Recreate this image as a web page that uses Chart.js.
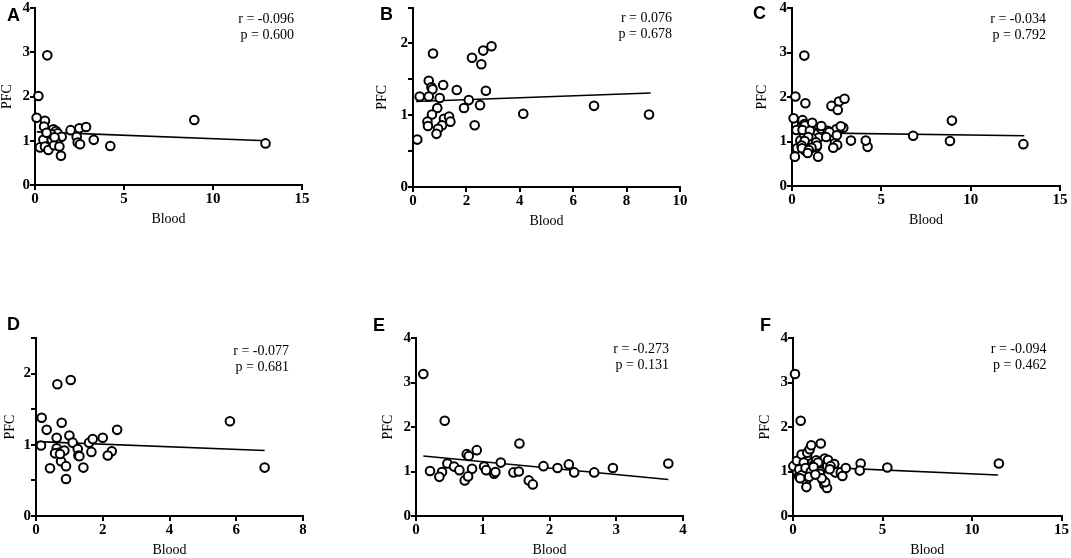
<!DOCTYPE html>
<html>
<head>
<meta charset="utf-8">
<script src="https://cdn.jsdelivr.net/npm/chart.js@4.4.1/dist/chart.umd.min.js"></script>
<style>
    html, body { margin: 0; padding: 0; background: #fff; overflow: hidden; width: 1071px; height: 558px; }
    .panel { position: absolute; }
    .tag { position: absolute; font: bold 18px "Liberation Sans", Arial, sans-serif; line-height: 1; color: #000; }
</style>
</head>
<body>
<script>
// values (x = Blood, y = PFC)
const bloodA = [0.69, 0.19, 0.09, 0.56, 0.51, 1.03, 1.18, 2.0, 2.49, 2.87, 1.27, 1.5, 0.8, 0.47, 0.94, 2.34,
    3.3, 2.4, 2.53, 1.18, 0.28, 0.56, 0.75, 1.07, 1.37, 1.46, 4.23, 8.95, 12.95, 0.9, 0.65, 1.1];
const pfcA = [2.93, 2.01, 1.52, 1.45, 1.32, 1.26, 1.22, 1.24, 1.28, 1.31, 1.17, 1.09, 1.12, 1.02, 1.02, 1.09,
    1.02, 0.96, 0.92, 0.98, 0.85, 0.87, 0.79, 0.9, 0.87, 0.66, 0.88, 1.47, 0.94, 1.15, 1.18, 1.08];

const bloodB = [0.75, 2.21, 2.63, 2.94, 2.56, 0.59, 0.69, 0.73, 1.13, 1.64, 2.73, 0.25, 0.59, 1.0, 2.09, 1.91,
    0.91, 2.51, 0.71, 1.16, 1.35, 1.4, 0.54, 0.56, 1.09, 0.94, 0.88, 2.31, 0.16, 4.13, 6.78, 8.84];
const pfcB = [1.86, 1.80, 1.90, 1.96, 1.71, 1.48, 1.39, 1.36, 1.42, 1.35, 1.34, 1.26, 1.26, 1.24, 1.21, 1.10,
    1.10, 1.14, 1.01, 0.95, 0.98, 0.91, 0.91, 0.85, 0.86, 0.81, 0.74, 0.86, 0.66, 1.02, 1.13, 1.01];

const bloodD = [0.64, 1.04, 0.17, 0.77, 0.32, 0.62, 1.0, 0.15, 1.1, 0.62, 0.7, 0.57, 0.85, 1.25, 1.27, 1.3,
    1.59, 1.7, 1.66, 2.0, 2.27, 2.15, 2.43, 0.75, 0.42, 0.9, 1.42, 0.9, 5.81, 6.85, 0.72];
const pfcD = [1.85, 1.91, 1.38, 1.31, 1.21, 1.10, 1.13, 0.99, 1.03, 0.95, 0.89, 0.88, 0.92, 0.94, 0.85, 0.84,
    1.03, 1.08, 0.90, 1.10, 0.91, 0.85, 1.21, 0.77, 0.67, 0.70, 0.68, 0.52, 1.33, 0.68, 0.87];

const bloodE = [0.11, 0.43, 1.55, 0.91, 0.76, 0.79, 0.47, 1.27, 0.21, 0.39, 0.35, 0.57, 0.65, 0.84, 0.73, 0.78,
    1.02, 1.05, 1.17, 1.19, 1.46, 1.54, 1.69, 1.75, 1.91, 2.12, 2.29, 2.37, 2.67, 2.95, 3.78];
const pfcE = [3.19, 2.14, 1.63, 1.48, 1.39, 1.35, 1.18, 1.20, 1.01, 0.99, 0.88, 1.11, 1.03, 1.06, 0.80, 0.89,
    1.11, 1.03, 0.95, 0.99, 0.98, 1.00, 0.80, 0.71, 1.12, 1.08, 1.16, 0.98, 0.98, 1.08, 1.18];

// extra points that appear only in panel F (F = E + these)
const bloodFx = [0.02, 0.22, 0.48, 0.8, 0.93, 1.02, 1.77, 1.96, 2.3, 3.73, 5.27, 11.5, 0.75, 1.9, 1.8, 2.76,
    1.3, 1.4, 0.6, 0.35, 0.5, 0.7, 1.0, 1.15, 1.5, 1.6, 2.1, 0.9, 1.25, 0.4, 2.05];
const pfcFx = [1.12, 1.24, 1.38, 1.42, 1.50, 1.59, 1.29, 1.26, 1.17, 1.02, 1.09, 1.18, 0.65, 0.63, 0.76, 0.90,
    1.25, 1.20, 1.20, 1.05, 0.92, 1.08, 1.00, 1.10, 0.95, 0.85, 1.12, 0.88, 0.93, 0.85, 1.05];

// C pools A and B
const bloodC = bloodA.concat(bloodB);
const pfcC = pfcA.concat(pfcB);
const bloodF = bloodE.concat(bloodFx);
const pfcF = pfcE.concat(pfcFx);

// regression line end points
const fitA = { x: [0.1, 13], y: [1.2, 1.0] };
const fitB = { x: [0.12, 8.9], y: [1.19, 1.31] };
const fitC = { x: [0.09, 13], y: [1.2, 1.13] };
const fitD = { x: [0.04, 6.85], y: [1.045, 0.92] };
const fitE = { x: [0.11, 3.78], y: [1.35, 0.82] };
const fitF = { x: [0.1, 11.46], y: [1.12, 0.92] };

const statsA = ['r = -0.096', 'p = 0.600'];
const statsB = ['r = 0.076', 'p = 0.678'];
const statsC = ['r = -0.034', 'p = 0.792'];
const statsD = ['r = -0.077', 'p = 0.681'];
const statsE = ['r = -0.273', 'p = 0.131'];
const statsF = ['r = -0.094', 'p = 0.462'];

// layout of each panel on the page (canvas box + plot area)
const panels = [
    { tag: 'A', x: bloodA, y: pfcA, fit: fitA, stats: statsA, xMax: 15, xStep: 5, yMax: 4, yStep: 1,
      L: 0, T: 0, W: 355, plot: { l: 35, t: 8, r: 302, b: 185 }, sdx: 8, sdy: 11, tagPos: [7, 6] },
    { tag: 'B', x: bloodB, y: pfcB, fit: fitB, stats: statsB, xMax: 10, xStep: 2, yMax: 2.5, yStep: 0.5,
      L: 375, T: 0, W: 325, plot: { l: 413, t: 7, r: 680, b: 187 }, sdx: 8, sdy: 11, tagPos: [380, 5] },
    { tag: 'C', x: bloodC, y: pfcC, fit: fitC, stats: statsC, xMax: 15, xStep: 5, yMax: 4, yStep: 1,
      L: 755, T: 0, W: 316, plot: { l: 792, t: 8, r: 1060, b: 186 }, sdx: 14, sdy: 11, tagPos: [753, 4] },
    { tag: 'D', x: bloodD, y: pfcD, fit: fitD, stats: statsD, xMax: 8, xStep: 2, yMax: 2.5, yStep: 0.5,
      L: 3, T: 328, W: 352, plot: { l: 36, t: 338, r: 303, b: 516 }, sdx: 14, sdy: 13, tagPos: [7, 315] },
    { tag: 'E', x: bloodE, y: pfcE, fit: fitE, stats: statsE, xMax: 4, xStep: 1, yMax: 4, yStep: 1,
      L: 381, T: 328, W: 320, plot: { l: 416, t: 338, r: 683, b: 516 }, sdx: 14, sdy: 11, tagPos: [373, 316] },
    { tag: 'F', x: bloodF, y: pfcF, fit: fitF, stats: statsF, xMax: 15, xStep: 5, yMax: 4, yStep: 1,
      L: 758, T: 328, W: 313, plot: { l: 793, t: 338, r: 1062, b: 516 }, sdx: 15, sdy: 11, tagPos: [760, 316] }
];

const serif = '"Liberation Serif", "Times New Roman", serif';
const X_AXIS_H = 46;

// r / p text in the top right corner of each plot
const statsText = {
    id: 'statsText',
    afterDatasetsDraw(chart, args, opts) {
        const { ctx, chartArea } = chart;
        ctx.save();
        ctx.font = '14px ' + serif;
        ctx.fillStyle = '#000';
        ctx.textAlign = 'right';
        ctx.textBaseline = 'middle';
        opts.lines.forEach((t, i) => {
            ctx.fillText(t, chartArea.right - opts.dx, chartArea.top + opts.dy + i * 16);
        });
        ctx.restore();
    }
};

function axisStyle() {
    return {
        grid: { display: true, drawOnChartArea: false, drawTicks: true, tickLength: 5, color: '#000', lineWidth: 2 },
        border: { display: true, color: '#000', width: 2 }
    };
}

panels.forEach(p => {
    const H = p.plot.b + X_AXIS_H - p.T;
    const div = document.createElement('div');
    div.className = 'panel';
    div.style.left = p.L + 'px';
    div.style.top = p.T + 'px';
    div.style.width = p.W + 'px';
    div.style.height = H + 'px';
    const canvas = document.createElement('canvas');
    canvas.width = p.W;
    canvas.height = H;
    div.appendChild(canvas);
    document.body.appendChild(div);

    const tag = document.createElement('div');
    tag.className = 'tag';
    tag.textContent = p.tag;
    tag.style.left = p.tagPos[0] + 'px';
    tag.style.top = p.tagPos[1] + 'px';
    document.body.appendChild(tag);

    const yW = p.plot.l - p.L;
    const points = p.x.map((v, i) => ({ x: v, y: p.y[i] }));
    const line = p.fit.x.map((v, i) => ({ x: v, y: p.fit.y[i] }));

    new Chart(canvas.getContext('2d'), {
        type: 'scatter',
        data: {
            datasets: [{
                data: points,
                order: 0,
                clip: false,
                pointRadius: 4.3,
                pointBorderWidth: 2,
                pointBorderColor: '#000',
                pointBackgroundColor: '#fff'
            }, {
                data: line,
                order: 1,
                clip: false,
                showLine: true,
                pointRadius: 0,
                borderColor: '#000',
                borderWidth: 1.6
            }]
        },
        options: {
            responsive: false,
            animation: false,
            events: [],
            layout: {
                padding: { top: p.plot.t - p.T, right: p.L + p.W - p.plot.r, left: 0, bottom: 0 }
            },
            plugins: {
                legend: { display: false },
                tooltip: { enabled: false },
                statsText: { lines: p.stats, dx: p.sdx, dy: p.sdy }
            },
            scales: {
                x: Object.assign(axisStyle(), {
                    type: 'linear',
                    min: 0,
                    max: p.xMax,
                    afterFit: s => { s.height = X_AXIS_H; },
                    ticks: {
                        stepSize: p.xStep,
                        padding: 2,
                        color: '#000',
                        maxRotation: 0,
                        font: { family: serif, size: 15, weight: 'bold', lineHeight: 1 },
                        callback: v => String(v)
                    },
                    title: {
                        display: true,
                        text: 'Blood',
                        color: '#000',
                        padding: { top: 2, bottom: 3 },
                        font: { family: serif, size: 14, lineHeight: 1.2 }
                    }
                }),
                y: Object.assign(axisStyle(), {
                    type: 'linear',
                    min: 0,
                    max: p.yMax,
                    afterFit: s => { s.width = yW; },
                    ticks: {
                        stepSize: p.yStep,
                        padding: 0,
                        color: '#000',
                        font: { family: serif, size: 15, weight: 'bold', lineHeight: 1 },
                        callback: v => (Number.isInteger(v) ? String(v) : '')
                    },
                    title: {
                        display: true,
                        text: 'PFC',
                        color: '#000',
                        padding: { top: 0, bottom: 0 },
                        font: { family: serif, size: 14, lineHeight: 1 }
                    }
                })
            }
        },
        plugins: [statsText]
    });
});
</script>
</body>
</html>
